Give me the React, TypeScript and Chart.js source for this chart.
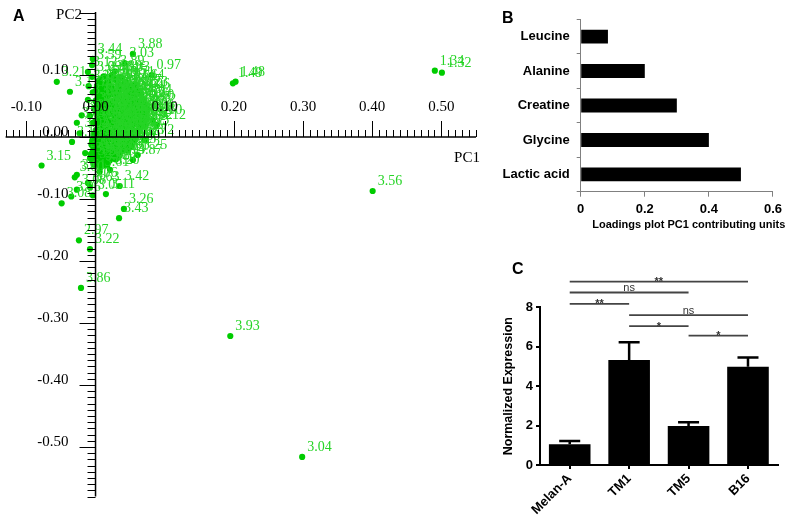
import React, { useEffect, useRef } from "react";
import { Chart, registerables } from "chart.js";
Chart.register(...registerables);

const SERIF = '"Liberation Serif", "Times New Roman", serif';
const SANS = '"Liberation Sans", Arial, sans-serif';

// ---------- Panel A: PCA scores ----------
const clusterX = [
  0.012, 0.024, 0.036,
  0.006, 0.018, 0.030, 0.043,
  0.003, 0.011, 0.022, 0.033, 0.046, 0.057,
  0.001, 0.009, 0.017, 0.026, 0.035, 0.044, 0.053, 0.062,
  0.004, 0.012, 0.020, 0.029, 0.038, 0.047, 0.056, 0.065,
  0.001, 0.008, 0.016, 0.024, 0.032, 0.041, 0.050, 0.059, 0.068,
  0.004, 0.012, 0.020, 0.028, 0.036, 0.045, 0.054, 0.063, 0.071,
  0.001, 0.008, 0.016, 0.024, 0.032, 0.040, 0.049, 0.058, 0.067, 0.074,
  0.004, 0.012, 0.020, 0.028, 0.036, 0.044, 0.053, 0.062, 0.070,
  0.001, 0.008, 0.016, 0.024, 0.032, 0.040, 0.048, 0.057, 0.066, 0.073,
  0.004, 0.012, 0.020, 0.028, 0.036, 0.044, 0.052, 0.061, 0.069,
  0.001, 0.008, 0.016, 0.024, 0.032, 0.040, 0.048, 0.056, 0.064,
  -0.002, 0.004, 0.012, 0.020, 0.028, 0.036, 0.044, 0.052, 0.060,
  -0.004, 0.001, 0.008, 0.016, 0.024, 0.032, 0.040, 0.048, 0.056,
  -0.005, 0.003, 0.011, 0.019, 0.027, 0.035, 0.043, 0.051,
  -0.003, 0.005, 0.013, 0.021, 0.029, 0.037, 0.045,
  -0.006, 0.002, 0.010, 0.018, 0.026, 0.034,
  -0.004, 0.004, 0.012, 0.020, 0.029,
  -0.002, 0.007, 0.016,
];
const clusterY = [
  0.097, 0.099, 0.096,
  0.091, 0.089, 0.092, 0.088,
  0.082, 0.084, 0.081, 0.085, 0.082, 0.084,
  0.074, 0.076, 0.075, 0.073, 0.077, 0.074, 0.076, 0.073,
  0.068, 0.066, 0.069, 0.067, 0.065, 0.068, 0.066, 0.069,
  0.058, 0.060, 0.059, 0.057, 0.061, 0.058, 0.060, 0.057, 0.060,
  0.052, 0.050, 0.053, 0.051, 0.049, 0.052, 0.050, 0.053, 0.051,
  0.042, 0.044, 0.043, 0.041, 0.045, 0.042, 0.044, 0.041, 0.043, 0.045,
  0.036, 0.034, 0.037, 0.035, 0.033, 0.036, 0.034, 0.037, 0.035,
  0.026, 0.028, 0.027, 0.025, 0.029, 0.026, 0.028, 0.025, 0.027, 0.029,
  0.020, 0.018, 0.021, 0.019, 0.017, 0.020, 0.018, 0.021, 0.019,
  0.010, 0.012, 0.011, 0.009, 0.013, 0.010, 0.012, 0.009, 0.011,
  0.004, 0.002, 0.005, 0.003, 0.001, 0.004, 0.002, 0.005, 0.003,
  -0.006, -0.004, -0.005, -0.007, -0.003, -0.006, -0.004, -0.007, -0.005,
  -0.012, -0.014, -0.013, -0.015, -0.011, -0.014, -0.012, -0.015,
  -0.022, -0.020, -0.023, -0.021, -0.019, -0.022, -0.020,
  -0.028, -0.030, -0.029, -0.031, -0.027, -0.030,
  -0.038, -0.036, -0.039, -0.037, -0.035,
  -0.044, -0.046, -0.045,
];
const clusterLabels = [
  "2.96", "3.89", "3.03",
  "3.76", "3.19", "3.85", "3.71",
  "3.54", "3.79", "3.66", "3.92", "3.74", "3.64",
  "3.50", "3.78", "3.83", "3.91", "3.69", "3.81", "3.77", "3.23",
  "3.70", "3.58", "3.95", "3.72", "3.80", "3.67", "3.84", "4.06",
  "3.47", "3.90", "3.62", "3.75", "3.68", "3.82", "3.57", "3.73", "4.04",
  "3.53", "3.87", "3.65", "3.94", "3.71", "3.79", "3.60", "3.86", "4.10",
  "3.48", "3.63", "3.88", "3.74", "3.56", "3.82", "3.69", "3.77", "3.93", "4.12",
  "3.51", "3.85", "3.67", "3.78", "3.62", "3.90", "3.73", "3.80", "3.96",
  "3.45", "3.70", "3.59", "3.84", "3.66", "3.76", "3.83", "3.61", "3.72", "3.98",
  "3.52", "3.68", "3.81", "3.57", "3.74", "3.89", "3.65", "3.79", "3.92",
  "3.44", "3.75", "3.63", "3.86", "3.70", "3.58", "3.82", "3.67", "3.73",
  "3.38", "3.49", "3.64", "3.77", "3.55", "3.81", "3.69", "3.60", "3.25",
  "3.36", "3.41", "3.72", "3.59", "3.83", "3.66", "3.78", "3.62", "3.28",
  "3.34", "3.46", "3.57", "3.71", "3.63", "3.80", "3.68", "3.30",
  "3.32", "3.40", "3.87", "3.61", "3.75", "3.54", "3.35",
  "3.29", "3.37", "3.65", "3.50", "3.58", "3.31",
  "3.27", "3.33", "3.61", "3.39", "3.14",
  "3.24", "3.18", "3.20",
];
const outlierX = [
  -0.004, -0.005, 0.054, 0.042, 0.028, -0.011, -0.005, -0.010, -0.004, -0.011,
  -0.002, -0.008, -0.004, -0.056, -0.037, -0.020, -0.027, -0.023, -0.034, -0.015,
  -0.008, -0.078, -0.027, -0.030, -0.035, -0.049, -0.027, -0.011, -0.008, -0.004,
  0.015, 0.035, 0.021, 0.006, 0.041, 0.034, -0.024, -0.008, -0.021, 0.1948,
  0.2987, 0.4006, 0.1986, 0.2024, 0.4905, 0.5007, 0.0808, 0.088, 0.0827, 0.061,
  0.071, 0.054,
];
const outlierY = [
  0.126, 0.116, 0.134, 0.119, 0.106, 0.105, 0.097, 0.082, 0.072, 0.060,
  0.047, 0.034, 0.023, 0.089, 0.073, 0.035, 0.023, 0.006, -0.008, -0.026,
  -0.034, -0.046, -0.061, -0.065, -0.096, -0.107, -0.085, -0.074, -0.081, -0.094,
  -0.092, -0.079, -0.053, -0.056, -0.116, -0.131, -0.1666, -0.181, -0.2435, -0.321,
  -0.516, -0.0871, 0.0866, 0.0892, 0.107, 0.1037, 0.100, 0.0194, 0.027, -0.029,
  -0.005, -0.037,
];
const outlierLabels = [
  "3.44", "3.59", "3.88", "3.03", "3.89", "3.12", "3.09", "3.13", "3.16", "3.19",
  "3.10", "3.11", "3.05", "3.21", "3.17", "3.07", "3.04", "3.02", "3.18", "3.01",
  "3.00", "3.15", "3.61", "3.60", "3.06", "3.08", "3.08", "3.06", "3.63", "3.05",
  "3.11", "3.42", "3.20", "3.61", "3.26", "3.43", "2.97", "3.22", "3.86", "3.93",
  "3.04", "3.56", "1.49", "1.48", "1.34", "1.32", "0.97", "4.12", "4.10", "3.25",
  "3.72", "3.87",
];
const pcaXTicks = [-0.1, 0.0, 0.1, 0.2, 0.3, 0.4, 0.5];
const pcaXTickLabels = ["-0.10", "0.00", "0.10", "0.20", "0.30", "0.40", "0.50"];
const pcaYTicks = [0.1, 0.0, -0.1, -0.2, -0.3, -0.4, -0.5];
const pcaYTickLabels = ["0.10", "0.00", "-0.10", "-0.20", "-0.30", "-0.40", "-0.50"];

// ---------- Panel B: loadings ----------
const loadCategories = ["Leucine", "Alanine", "Creatine", "Glycine", "Lactic acid"];
const loadValues = [0.085, 0.2, 0.3, 0.4, 0.5];

// ---------- Panel C: expression ----------
const exprCategories = ["Melan-A", "TM1", "TM5", "B16"];
const exprMeans = [1.05, 5.33, 1.98, 4.99];
const exprErrors = [0.17, 0.9, 0.19, 0.46];
const sigFrom = [0, 0, 0, 1, 1, 2];
const sigTo = [3, 2, 1, 3, 2, 3];
const sigLevel = [9.3, 8.75, 8.17, 7.6, 7.04, 6.56];
const sigText = ["**", "ns", "**", "ns", "*", "*"];

const pcaPlugin = {
  id: "pcaAxes",
  afterDatasetsDraw(chart: any) {
    const ctx = chart.ctx;
    const xs = chart.scales.x;
    const ys = chart.scales.y;
    ctx.save();
    // point labels
    ctx.font = `14px ${SERIF}`;
    ctx.fillStyle = "#26d426";
    ctx.textAlign = "left";
    ctx.textBaseline = "alphabetic";
    const drawLabels = (xa: number[], ya: number[], la: string[]) => {
      for (let i = 0; i < xa.length; i++) {
        ctx.fillText(la[i], xs.getPixelForValue(xa[i]) + 5, ys.getPixelForValue(ya[i]) - 6);
      }
    };
    drawLabels(clusterX, clusterY, clusterLabels);
    drawLabels(outlierX, outlierY, outlierLabels);

    // axes
    const x0 = xs.getPixelForValue(0);
    const y0 = ys.getPixelForValue(0);
    ctx.strokeStyle = "#000";
    ctx.lineWidth = 1.5;
    ctx.beginPath();
    ctx.moveTo(xs.left, y0);
    ctx.lineTo(xs.right, y0);
    ctx.moveTo(x0, ys.top - 1);
    ctx.lineTo(x0, ys.bottom);
    ctx.stroke();
    ctx.lineWidth = 1;
    ctx.beginPath();
    const kx0 = Math.round(xs.min * 100), kx1 = Math.round(xs.max * 100);
    for (let k = kx0; k <= kx1; k++) {
      const px = Math.round(xs.getPixelForValue(k / 100)) + 0.5;
      const len = k % 10 === 0 ? 16 : 7;
      ctx.moveTo(px, y0);
      ctx.lineTo(px, y0 - len);
    }
    const ky0 = Math.round(ys.min * 100), ky1 = Math.round(ys.max * 100);
    for (let k = ky0; k <= ky1; k++) {
      const py = Math.round(ys.getPixelForValue(k / 100)) + 0.5;
      const len = k % 10 === 0 ? 16 : 8;
      ctx.moveTo(x0 - len, py);
      ctx.lineTo(x0, py);
    }
    ctx.stroke();

    ctx.fillStyle = "#000";
    ctx.font = `15px ${SERIF}`;
    ctx.textAlign = "center";
    ctx.textBaseline = "middle";
    pcaXTicks.forEach((v, i) => ctx.fillText(pcaXTickLabels[i], xs.getPixelForValue(v), y0 - 30));
    ctx.textAlign = "right";
    pcaYTicks.forEach((v, i) => ctx.fillText(pcaYTickLabels[i], x0 - 27, ys.getPixelForValue(v) - 5));
    ctx.textAlign = "center";
    ctx.fillText("PC2", 69, 15);
    ctx.fillText("PC1", 467, 158);
    ctx.font = `bold 16px ${SANS}`;
    ctx.textAlign = "left";
    ctx.textBaseline = "alphabetic";
    ctx.fillText("A", 13, 21);
    ctx.restore();
  },
};

const loadPlugin = {
  id: "loadExtras",
  afterDraw(chart: any) {
    const ctx = chart.ctx;
    const a = chart.chartArea;
    ctx.save();
    ctx.fillStyle = "#000";
    ctx.font = `bold 11px ${SANS}`;
    ctx.textAlign = "center";
    ctx.textBaseline = "middle";
    ctx.fillText("Loadings plot PC1 contributing units", (a.left + a.right) / 2 + 12, 225);
    ctx.font = `bold 16px ${SANS}`;
    ctx.textAlign = "left";
    ctx.textBaseline = "alphabetic";
    ctx.fillText("B", 22, 23);
    ctx.restore();
  },
};

const exprPlugin = {
  id: "exprExtras",
  afterDatasetsDraw(chart: any) {
    const ctx = chart.ctx;
    const xs = chart.scales.x;
    const ys = chart.scales.y;
    ctx.save();
    // error bars
    ctx.strokeStyle = "#000";
    ctx.lineWidth = 2.5;
    ctx.beginPath();
    exprMeans.forEach((m, i) => {
      const x = xs.getPixelForValue(i);
      const yTop = ys.getPixelForValue(m + exprErrors[i]);
      const yMid = ys.getPixelForValue(m);
      ctx.moveTo(x, yMid);
      ctx.lineTo(x, yTop);
      ctx.moveTo(x - 10.5, yTop);
      ctx.lineTo(x + 10.5, yTop);
    });
    ctx.stroke();
    // significance brackets
    ctx.strokeStyle = "#444";
    ctx.lineWidth = 1.8;
    ctx.fillStyle = "#333";
    ctx.textAlign = "center";
    sigLevel.forEach((lv, k) => {
      const y = ys.getPixelForValue(lv);
      const x1 = xs.getPixelForValue(sigFrom[k]);
      const x2 = xs.getPixelForValue(sigTo[k]);
      ctx.beginPath();
      ctx.moveTo(x1, y);
      ctx.lineTo(x2, y);
      ctx.stroke();
      const t = sigText[k];
      if (t === "ns") {
        ctx.font = `11px ${SANS}`;
        ctx.textBaseline = "alphabetic";
        ctx.fillText(t, (x1 + x2) / 2, y - 1.5);
      } else {
        ctx.font = `bold 11px ${SANS}`;
        ctx.textBaseline = "alphabetic";
        ctx.fillText(t, (x1 + x2) / 2, y + 3.5);
      }
    });
    ctx.fillStyle = "#000";
    ctx.font = `bold 16px ${SANS}`;
    ctx.textAlign = "left";
    ctx.fillText("C", 32, 23.5);
    ctx.restore();
  },
};

export default function App() {
  const aRef = useRef<HTMLCanvasElement>(null);
  const bRef = useRef<HTMLCanvasElement>(null);
  const cRef = useRef<HTMLCanvasElement>(null);

  useEffect(() => {
    const charts: Chart[] = [];
    const tickFont = (size: number) => ({ family: SANS, size, weight: "bold" as const });

    charts.push(
      new Chart(aRef.current as HTMLCanvasElement, {
        type: "scatter",
        data: {
          datasets: [
            {
              data: clusterX.map((x, i) => ({ x, y: clusterY[i] })),
              backgroundColor: "#00cc00",
              pointRadius: 3.7,
              borderWidth: 0,
            },
            {
              data: outlierX.map((x, i) => ({ x, y: outlierY[i] })),
              backgroundColor: "#00cc00",
              pointRadius: 3.1,
              borderWidth: 0,
            },
          ],
        },
        options: {
          animation: false,
          responsive: false,
          devicePixelRatio: 1,
          layout: { padding: { left: 5.6, right: 3.2, top: 13, bottom: 19.4 } },
          scales: {
            x: { type: "linear", display: false, min: -0.13, max: 0.55 },
            y: { type: "linear", display: false, min: -0.58, max: 0.2 },
          },
          plugins: { legend: { display: false }, tooltip: { enabled: false } },
        },
        plugins: [pcaPlugin],
      } as any)
    );

    charts.push(
      new Chart(bRef.current as HTMLCanvasElement, {
        type: "bar",
        data: {
          labels: loadCategories,
          datasets: [
            {
              data: loadValues,
              backgroundColor: "#000",
              barPercentage: 0.4,
              categoryPercentage: 1,
            },
          ],
        },
        options: {
          indexAxis: "y",
          animation: false,
          responsive: false,
          devicePixelRatio: 1,
          layout: { padding: { left: 0, right: 13.7, top: 19.3, bottom: 0 } },
          scales: {
            x: {
              min: 0,
              max: 0.6,
              ticks: { stepSize: 0.2, font: tickFont(13), color: "#000", padding: 5 },
              grid: { drawOnChartArea: false, drawTicks: true, tickLength: 5, color: "#808080" },
              border: { color: "#808080", width: 1 },
              afterFit: (s: any) => {
                s.height = 38.3;
              },
            },
            y: {
              ticks: { font: tickFont(13), color: "#000", padding: 7 },
              grid: { drawOnChartArea: false, drawTicks: true, tickLength: 4, color: "#808080", offset: true },
              border: { color: "#808080", width: 1 },
              afterFit: (s: any) => {
                s.width = 100.7;
              },
            },
          },
          plugins: { legend: { display: false }, tooltip: { enabled: false } },
        },
        plugins: [loadPlugin],
      } as any)
    );

    charts.push(
      new Chart(cRef.current as HTMLCanvasElement, {
        type: "bar",
        data: {
          labels: exprCategories,
          datasets: [
            {
              data: exprMeans,
              backgroundColor: "#000",
              barPercentage: 0.7,
              categoryPercentage: 1,
            },
          ],
        },
        options: {
          animation: false,
          responsive: false,
          devicePixelRatio: 1,
          layout: { padding: { left: 0, right: 9.3, top: 57.3, bottom: 0 } },
          scales: {
            x: {
              ticks: { font: tickFont(13), color: "#000", minRotation: 45, maxRotation: 45, padding: 2 },
              grid: { drawOnChartArea: false, drawTicks: true, tickLength: 4, color: "#000", lineWidth: 2, offset: false },
              border: { color: "#000", width: 2 },
              afterFit: (s: any) => {
                s.height = 51;
              },
            },
            y: {
              min: 0,
              max: 8,
              ticks: { stepSize: 2, font: tickFont(13), color: "#000", padding: 3 },
              grid: { drawOnChartArea: false, drawTicks: true, tickLength: 4, color: "#000", lineWidth: 2 },
              border: { color: "#000", width: 2 },
              title: {
                display: true,
                text: "Normalized Expression",
                font: { family: SANS, size: 12.5, weight: "bold" },
                color: "#000",
                padding: { top: 21, bottom: 0 },
              },
              afterFit: (s: any) => {
                s.width = 60;
              },
            },
          },
          plugins: { legend: { display: false }, tooltip: { enabled: false } },
        },
        plugins: [exprPlugin],
      } as any)
    );

    return () => charts.forEach((c) => c.destroy());
  }, []);

  return (
    <div style={{ position: "absolute", left: 0, top: 0, width: 787, height: 516, background: "#fff", overflow: "hidden" }}>
      <canvas ref={aRef} width={480} height={516} style={{ position: "absolute", left: 0, top: 0, width: 480, height: 516 }} />
      <canvas ref={bRef} width={307} height={230} style={{ position: "absolute", left: 480, top: 0, width: 307, height: 230 }} />
      <canvas ref={cRef} width={307} height={266} style={{ position: "absolute", left: 480, top: 250, width: 307, height: 266 }} />
    </div>
  );
}
